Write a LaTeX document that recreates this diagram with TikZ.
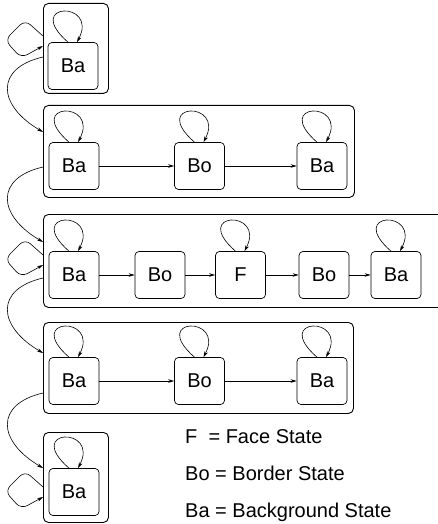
\documentclass[tikz,border=0pt]{standalone}
\usepackage{fontspec}
\setmainfont{Liberation Sans}
\usetikzlibrary{arrows.meta}
\newcommand\mysloop[1]{\draw[arr] ([xshift=-5pt]#1.north) .. controls +(-46,-40) and +(22,-42) .. ([xshift=4pt]#1.north);}
\newcommand\myleftloop[2]{\draw[arr, rounded corners=7pt] ([yshift=-#2pt]#1.north west) -- ++(-18,-16) -- ++(-20,20) -- ++(16,18) -- ([yshift=-#2pt-10pt]#1.north west);}
\begin{document}
\begin{tikzpicture}[x=1pt,y=-1pt,
  state/.style={draw, rounded corners=4pt, minimum width=50pt, minimum height=47pt, inner sep=0pt, font=\fontsize{20}{24}\selectfont, line width=0.7pt},
  group/.style={draw, rounded corners=5pt, inner sep=0pt, anchor=north west, line width=0.9pt},
  arr/.style={-{Stealth[length=6pt,width=3.5pt]}, line width=0.6pt},
  legend/.style={anchor=base west, inner sep=0pt, font=\fontsize{20}{24}\selectfont}]
\clip (0,0) rectangle (438,524);
% groups
\node[group, minimum width=65pt, minimum height=90pt] (o1) at (43,3) {};
\node[group, minimum width=311pt, minimum height=92pt] (o2) at (43,105) {};
\node[group, minimum width=420pt, minimum height=93pt] (o3) at (43,214) {};
\node[group, minimum width=310pt, minimum height=91pt] (o4) at (43,322) {};
\node[group, minimum width=65pt, minimum height=90pt] (o5) at (43,432) {};
% states
\node[state] (a1) at (73,66) {Ba};
\node[state] (b1) at (74,166) {Ba};
\node[state] (b2) at (199.5,166) {Bo};
\node[state] (b3) at (322,166) {Ba};
\node[state] (c1) at (74,275) {Ba};
\node[state] (c2) at (160,275) {Bo};
\node[state] (c3) at (240.5,275) {F};
\node[state] (c4) at (324,275) {Bo};
\node[state] (c5) at (396,275) {Ba};
\node[state] (d1) at (74,381) {Ba};
\node[state] (d2) at (199.5,381) {Bo};
\node[state] (d3) at (322,381) {Ba};
\node[state] (e1) at (74,492) {Ba};
% self loops
\mysloop{a1}
\mysloop{b1}\mysloop{b2}\mysloop{b3}
\mysloop{c1}\mysloop{c3}\mysloop{c5}
\mysloop{d1}\mysloop{d2}\mysloop{d3}
\mysloop{e1}
\myleftloop{o1}{33}
\myleftloop{o3}{41}
\myleftloop{o5}{55}
% transitions
\draw[arr] (b1) -- (b2);
\draw[arr] (b2) -- (b3);
\draw[arr] (c1) -- (c2);
\draw[arr] (c2) -- (c3);
\draw[arr] (c3) -- (c4);
\draw[arr] (c4) -- (c5);
\draw[arr] (d1) -- (d2);
\draw[arr] (d2) -- (d3);
% group connectors
\draw[arr] ([yshift=-54pt]o1.north west) .. controls +(-48,11) and +(-46,-27) .. ([yshift=-27pt]o2.north west);
\draw[arr] ([yshift=-62pt]o2.north west) .. controls +(-48,11) and +(-46,-27) .. ([yshift=-28pt]o3.north west);
\draw[arr] ([yshift=-64pt]o3.north west) .. controls +(-48,11) and +(-46,-27) .. ([yshift=-31pt]o4.north west);
\draw[arr] ([yshift=-71pt]o4.north west) .. controls +(-48,11) and +(-46,-27) .. ([yshift=-36pt]o5.north west);
% legend
\node[legend] (l1) at (185,443) {F\ \ = Face State};
\node[legend] (l2) at (185,480) {Bo = Border State};
\node[legend] (l3) at (185,517) {Ba = Background State};
\end{tikzpicture}
\end{document}
